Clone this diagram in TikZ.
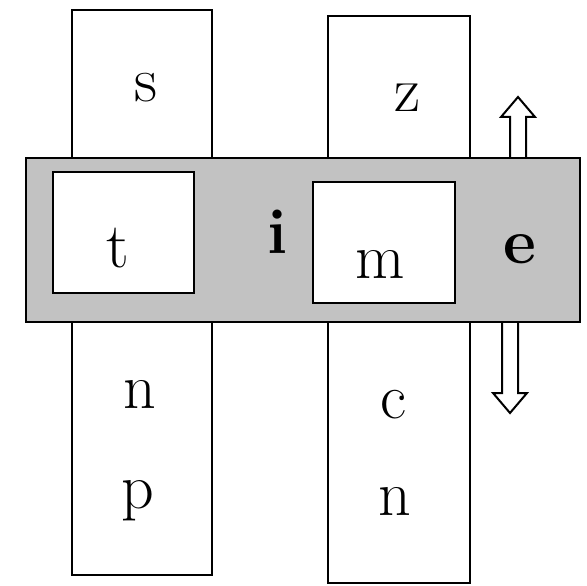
\documentclass[tikz,border=0pt]{standalone}
\usepackage{tikz}

\begin{document}
\begin{tikzpicture}[x=1pt, y=-1pt,
    box/.style={draw, line width=2.8pt, fill=white},
    letter/.style={font=\fontsize{64}{64}\selectfont, anchor=base, inner sep=0pt}]
    \useasboundingbox (0,0) rectangle (587,586);

    % the two columns
    \draw[box] (72,10) rectangle (212,575);
    \draw[box] (328,16) rectangle (470,583);

    % hollow arrows
    \draw[box, line width=2pt] (510,165) -- (510,117) -- (501,117) -- (518,97) -- (535,117) -- (526,117) -- (526,165) -- cycle;
    \draw[box, line width=2pt] (502,315) -- (502,393) -- (493,393) -- (510,413) -- (527,393) -- (518,393) -- (518,315) -- cycle;

    % shaded band
    \draw[line width=2.8pt, fill=black!24] (26,158) rectangle (580,322);
    \draw[box] (53,172) rectangle (194,293);
    \draw[box] (313,182) rectangle (455,303);

    \node[letter] (lblS) at (146,102) {s};
    \node[letter] (lblZ) at (407,112) {z};
    \node[letter] (lblT) at (118,267) {t};
    \node[letter] (lblI) at (278,253) {\textbf{i}};
    \node[letter] (lblM) at (380,278) {m};
    \node[letter] (lblE) at (520,263) {\textbf{e}};
    \node[letter] (lblNa) at (140,408) {n};
    \node[letter] (lblP) at (138,508) {p};
    \node[letter] (lblC) at (393,418) {c};
    \node[letter] (lblNb) at (395,515) {n};
\end{tikzpicture}
\end{document}
